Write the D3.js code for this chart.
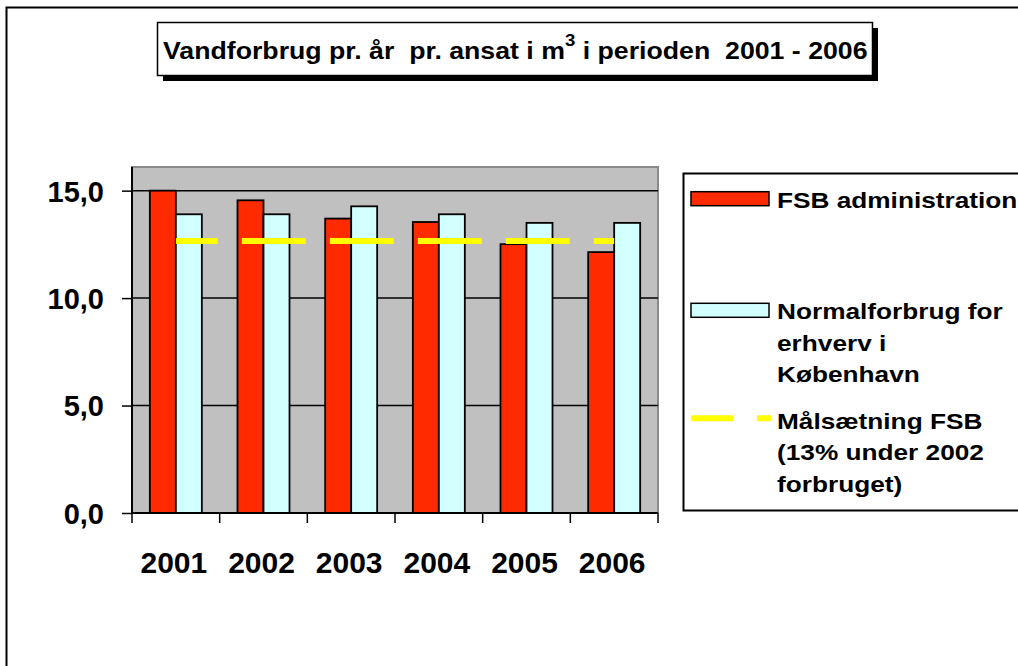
<!DOCTYPE html>
<html>
<head>
<meta charset="utf-8">
<script src="https://cdn.jsdelivr.net/npm/d3@7"></script>
<style>
  body { margin: 0; background: #fff; }
  svg { display: block; font-family: "Liberation Sans", Arial, sans-serif; font-weight: bold; }
  text { white-space: pre; }
</style>
</head>
<body>
<script>
// data
var years = ["2001", "2002", "2003", "2004", "2005", "2006"];
var fsbAdmin = [15.0, 14.55, 13.7, 13.54, 12.51, 12.14];
var normalForbrug = [13.9, 13.9, 14.27, 13.9, 13.5, 13.5];
var maalsaetning = [12.66, 12.66, 12.66, 12.66, 12.66, 12.66];
var yTicks = [0, 5, 10, 15];
var yMax = 16.1;

var legendLines = [
    ["FSB administration"],
    ["Normalforbrug for", "erhverv i", "København"],
    ["Målsætning FSB", "(13% under 2002", "forbruget)"]
];

var red = "#ff2a00", cyan = "#d2ffff", yellow = "#ffff00", plotBg = "#c0c0c0";

var width = 1018, height = 666;
var plot = {left: 132, right: 658, top: 167, bottom: 513};

var svg = d3.select("body").append("svg")
    .attr("width", width)
    .attr("height", height);

// outer chart border
svg.append("rect")
    .attr("x", 6.5).attr("y", 7.5)
    .attr("width", 1100).attr("height", 1000)
    .attr("fill", "#fff").attr("stroke", "#000").attr("stroke-width", 2);

// title box with shadow
svg.append("rect")
    .attr("x", 163).attr("y", 28).attr("width", 715).attr("height", 53)
    .attr("fill", "#000");
svg.append("rect")
    .attr("x", 157.5).attr("y", 22.5).attr("width", 715).attr("height", 53)
    .attr("fill", "#fff").attr("stroke", "#000").attr("stroke-width", 1.5);

var title = svg.append("text")
    .attr("font-size", 23);
title.append("tspan").text("Vandforbrug pr. år  pr. ansat i m");
title.append("tspan").attr("font-size", 16).attr("dy", -12.4).text("3");
title.append("tspan").attr("dy", 12.4).text(" i perioden  2001 - 2006");
// stretch the title to the width it has in the original
var tw = title.node().getBBox().width;
title.attr("transform", "translate(163,58.7) scale(" + (705 / tw) + ",1)");

// scales
var x0 = d3.scaleBand()
    .domain(years)
    .range([plot.left, plot.right]);

var x1 = d3.scaleBand()
    .domain([0, 1])
    .range([0, x0.bandwidth()])
    .paddingOuter(0.686);

var y = d3.scaleLinear()
    .domain([0, yMax])
    .range([plot.bottom, plot.top]);

// plot area
svg.append("rect")
    .attr("x", plot.left).attr("y", plot.top)
    .attr("width", plot.right - plot.left).attr("height", plot.bottom - plot.top)
    .attr("fill", plotBg).attr("stroke", "#8a8a8a").attr("stroke-width", 2);

// gridlines
svg.append("g").selectAll("line")
    .data(yTicks.filter(function (d) { return d > 0; }))
    .enter().append("line")
    .attr("x1", plot.left).attr("x2", plot.right)
    .attr("y1", function (d) { return y(d); })
    .attr("y2", function (d) { return y(d); })
    .attr("stroke", "#000").attr("stroke-width", 1.5);

// bars
var barData = [];
years.forEach(function (yr, i) {
    barData.push({year: yr, s: 0, v: fsbAdmin[i]});
    barData.push({year: yr, s: 1, v: normalForbrug[i]});
});

svg.append("g").selectAll("rect")
    .data(barData)
    .enter().append("rect")
    .attr("x", function (d) { return x0(d.year) + x1(d.s); })
    .attr("y", function (d) { return y(d.v); })
    .attr("width", x1.bandwidth())
    .attr("height", function (d) { return y(0) - y(d.v); })
    .attr("fill", function (d) { return d.s === 0 ? red : cyan; })
    .attr("stroke", "#000").attr("stroke-width", 1.8);

// target line
var line = d3.line()
    .x(function (d, i) { return x0(years[i]) + x0.bandwidth() / 2; })
    .y(function (d) { return y(d); });

svg.append("path")
    .datum(maalsaetning)
    .attr("d", line)
    .attr("fill", "none")
    .attr("stroke", yellow).attr("stroke-width", 6)
    .attr("stroke-dasharray", "64,24")
    .attr("stroke-dashoffset", 22);

// axes
var yAxis = svg.append("g")
    .attr("transform", "translate(" + plot.left + ",0)")
    .call(d3.axisLeft(y).tickValues(yTicks).tickSize(10).tickPadding(18)
        .tickFormat(function (d) { return d3.format(".1f")(d).replace(".", ","); }));
yAxis.select(".domain").attr("stroke", "#000").attr("stroke-width", 2)
    .attr("d", "M0," + plot.top + "V" + plot.bottom);
yAxis.selectAll(".tick line").attr("stroke-width", 1.5);
yAxis.selectAll(".tick text")
    .attr("font-size", 29).attr("font-family", "Liberation Sans, Arial, sans-serif")
    .attr("font-weight", "bold").attr("fill", "#000").attr("dy", "0.36em");

var xAxis = svg.append("g")
    .attr("transform", "translate(0," + plot.bottom + ")")
    .call(d3.axisBottom(x0).tickSize(0).tickPadding(0));
xAxis.select(".domain").attr("stroke", "#000").attr("stroke-width", 2)
    .attr("d", "M" + plot.left + ",0H" + plot.right);
xAxis.selectAll(".tick text")
    .attr("font-size", 30).attr("font-family", "Liberation Sans, Arial, sans-serif")
    .attr("font-weight", "bold").attr("fill", "#000")
    .attr("x", -2).attr("y", 60).attr("dy", 0);

// category separator ticks
var bounds = years.map(function (d) { return x0(d); }).concat([plot.right]);
svg.append("g").selectAll("line")
    .data(bounds)
    .enter().append("line")
    .attr("x1", function (d) { return d; }).attr("x2", function (d) { return d; })
    .attr("y1", plot.bottom).attr("y2", plot.bottom + 10)
    .attr("stroke", "#000").attr("stroke-width", 1.5);

// legend
var legend = svg.append("g");
legend.append("rect")
    .attr("x", 683.5).attr("y", 173.5).attr("width", 400).attr("height", 337)
    .attr("fill", "#fff").attr("stroke", "#000").attr("stroke-width", 2);

var keyY = [198.7, 310.3, 418.3];
var firstBaseline = [207.7, 319, 428.7];

legend.append("rect")
    .attr("x", 691).attr("y", keyY[0] - 7).attr("width", 78).attr("height", 14)
    .attr("fill", red).attr("stroke", "#000").attr("stroke-width", 1.5);
legend.append("rect")
    .attr("x", 691).attr("y", keyY[1] - 7).attr("width", 78).attr("height", 14)
    .attr("fill", cyan).attr("stroke", "#000").attr("stroke-width", 1.5);
legend.append("line")
    .attr("x1", 691).attr("x2", 771)
    .attr("y1", keyY[2]).attr("y2", keyY[2])
    .attr("stroke", yellow).attr("stroke-width", 6)
    .attr("stroke-dasharray", "64,24")
    .attr("stroke-dashoffset", 22);

legendLines.forEach(function (lines, i) {
    lines.forEach(function (t, j) {
        legend.append("text")
            .attr("transform", "translate(777," + (firstBaseline[i] + j * 31.7) + ") scale(1.22,1)")
            .attr("font-size", 21.5)
            .text(t);
    });
});
</script>
</body>
</html>
